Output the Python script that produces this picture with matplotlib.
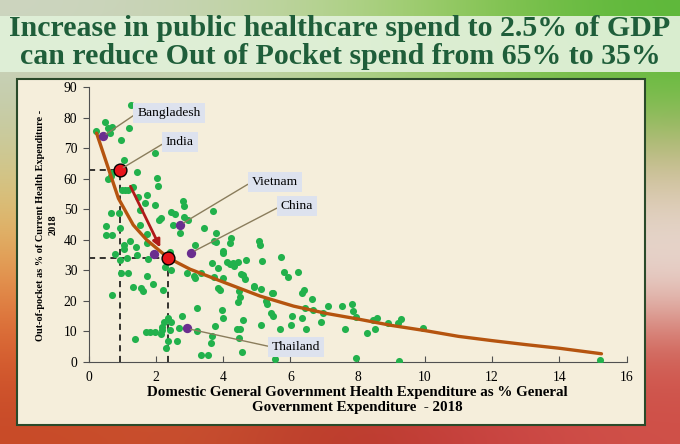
import numpy as np
import matplotlib.pyplot as plt
from matplotlib.patches import Rectangle
from matplotlib.colors import to_rgb

plt.rcParams['font.family'] = ['Liberation Serif', 'DejaVu Serif']

# other countries (green dots): x = govt health exp as % of GGE, y = OOP %
green_x = [0.22, 0.49, 0.59, 0.69, 0.64, 1.21, 1.25, 0.96, 1.05, 1.98, 1.43, 0.69, 0.66, 0.59,
           2.03, 2.07, 0.99, 1.08, 1.18, 1.31, 1.46, 1.73, 1.68, 1.98, 1.53, 2.45, 2.57, 2.82,
           2.85, 3.71, 2.15, 2.10, 0.67, 0.91, 0.51, 0.51, 0.71, 0.94, 1.53, 2.52, 2.85, 2.97,
           1.73, 2.72, 3.44, 3.79, 3.74, 3.78, 4.23, 4.20, 5.08, 5.10, 1.23, 1.06, 1.06, 1.40,
           1.73, 3.17, 0.79, 1.13, 1.43, 1.78, 2.42, 4.01, 3.99, 2.27, 2.45, 0.97, 1.18, 1.73,
           2.92, 3.13, 3.16, 3.33, 3.68, 3.86, 4.12, 4.20, 4.30, 4.43, 4.33, 4.67, 5.15, 5.71,
           4.53, 4.60, 4.65, 3.99, 3.73, 4.93, 5.81, 5.92, 6.22, 5.49, 4.48, 4.50, 4.45, 3.84,
           3.91, 5.27, 5.30, 6.41, 6.35, 6.65, 6.43, 6.68, 6.98, 7.13, 7.55, 7.84, 7.87, 7.94,
           7.64, 8.29, 8.45, 8.59, 8.52, 8.89, 9.21, 9.28, 9.95, 7.94, 9.24, 15.20, 1.93, 1.33,
           1.56, 1.63, 2.22, 0.71, 2.35, 2.24, 2.45, 2.18, 2.77, 2.18, 2.42, 1.70, 1.83, 1.98,
           2.15, 2.69, 3.23, 3.22, 1.38, 2.37, 2.64, 2.29, 3.34, 3.56, 3.66, 3.63, 3.76, 3.96,
           3.99, 4.58, 4.40, 4.50, 4.47, 4.55, 5.13, 5.69, 5.44, 5.49, 6.04, 6.02, 6.36, 6.47,
           6.91, 5.54, 5.12, 5.47, 4.92, 0.94]
green_y = [75.7, 78.4, 76.5, 76.9, 74.9, 76.5, 84.2, 72.7, 66.1, 68.3, 62.2, 61.8, 60.7, 60.0,
           60.2, 57.5, 56.3, 56.3, 56.3, 57.4, 54.1, 54.7, 51.9, 51.4, 49.7, 48.9, 48.4, 52.5,
           51.0, 49.4, 47.0, 46.5, 48.7, 48.7, 44.6, 41.5, 41.5, 43.7, 44.8, 44.8, 47.5, 46.5,
           41.9, 42.1, 43.7, 42.1, 39.6, 39.3, 40.5, 38.8, 39.6, 38.3, 39.6, 38.3, 36.9, 37.7,
           38.8, 38.3, 35.3, 33.9, 34.8, 33.6, 35.9, 36.4, 35.7, 31.1, 30.1, 29.2, 28.9, 28.2,
           29.2, 28.1, 27.3, 29.0, 32.3, 30.6, 32.8, 32.0, 32.3, 32.8, 31.5, 33.3, 33.0, 34.2,
           28.8, 28.4, 27.0, 27.5, 27.9, 24.6, 29.5, 27.7, 29.3, 22.4, 23.2, 21.3, 19.7, 24.1,
           23.5, 20.0, 18.9, 23.5, 22.4, 20.6, 17.5, 17.0, 16.1, 18.4, 18.4, 18.9, 16.6, 14.8,
           10.7, 9.3, 13.7, 14.2, 10.7, 12.8, 12.8, 13.9, 10.9, 1.3, 0.2, 0.5, 25.5, 24.4,
           24.1, 23.2, 23.5, 21.9, 14.2, 12.9, 13.1, 11.5, 15.0, 10.4, 10.4, 9.6, 9.6, 9.8,
           9.1, 10.9, 10.2, 17.5, 7.4, 6.9, 6.9, 4.6, 2.2, 2.1, 8.5, 6.0, 11.8, 16.9,
           14.2, 13.7, 10.7, 10.6, 7.7, 3.3, 12.0, 10.6, 15.9, 15.0, 15.0, 12.0, 14.2, 10.7,
           12.9, 0.9, 23.7, 22.4, 24.9, 33.3]

# labelled countries
country_names = ['Bangladesh', 'Vietnam', 'China', 'Thailand']
country_x = [0.42, 2.72, 3.05, 2.92]
country_y = [73.8, 44.8, 35.7, 10.9]
other_purple_x = [1.96]
other_purple_y = [35.2]

# India now and India at 2.5% of GDP
india_x = 0.93
india_y = 62.9
target_x = 2.37
target_y = 33.9

# trend line
trend_x = [0.24, 0.54, 0.89, 1.33, 1.73, 2.37, 3.02, 4.1, 5.1, 6.1, 7.08, 8.0, 9.0,
           10.0, 11.0, 12.0, 13.0, 14.0, 15.25]
trend_y = [74.9, 65.0, 53.5, 44.8, 39.9, 34.0, 30.3, 25.7, 21.5, 18.2, 15.8, 14.0, 11.9,
           10.2, 8.3, 6.9, 5.6, 4.4, 2.6]

fig = plt.figure(figsize=(6.8, 4.44), dpi=100)

# slide background
bg = fig.add_axes([0, 0, 1, 1])
grid = [['#cdd5c0', '#c5d3b0', '#b5d48e', '#8cc657', '#5db83a'],
        ['#c3cdb0', '#c8d4b0', '#b0d090', '#90c860', '#6ebc42'],
        ['#cdc990', '#d0d0b0', '#d0d0b0', '#c8c098', '#c9b888'],
        ['#e0b868', '#e0d0b0', '#e0d0c0', '#e0d0c8', '#e6d6cc'],
        ['#e48c48', '#d8a070', '#d8b0a0', '#e0c0b8', '#e8d4cc'],
        ['#d86030', '#d06a40', '#c85040', '#d07060', '#d06055'],
        ['#c84a28', '#c85030', '#b83828', '#c84040', '#d05048']]
img = np.array([[to_rgb(c) for c in row] for row in grid])
bg.imshow(img, extent=(0, 680, 444, 0), aspect='auto', interpolation='bicubic')
bg.set_xlim(0, 680)
bg.set_ylim(444, 0)
bg.axis('off')
bg.add_patch(Rectangle((0, 16), 680, 56, fc='#e0f0d8', ec='none', alpha=0.95))
bg.add_patch(Rectangle((17, 79), 628, 346, fc='#f5eedb', ec='#2a4a2a', lw=1.5))

fig.text(0.5, 1 - 28 / 444, 'Increase in public healthcare spend to 2.5% of GDP',
         ha='center', va='center', fontsize=21.5, fontweight='bold', color='#1f5e3a')
fig.text(0.5, 1 - 56 / 444, 'can reduce Out of Pocket spend from 65% to 35%',
         ha='center', va='center', fontsize=21.5, fontweight='bold', color='#1f5e3a')

ax = fig.add_axes([88.5 / 680, 1 - 361.7 / 444, 538.2 / 680, 274.7 / 444])
ax.patch.set_alpha(0)
ax.set_xlim(0, 16)
ax.set_ylim(0, 90)
ax.set_xticks(range(0, 17, 2))
ax.set_yticks(range(0, 91, 10))
for s in ['top', 'right']:
    ax.spines[s].set_visible(False)
for s in ['left', 'bottom']:
    ax.spines[s].set_color('#505050')
ax.tick_params(axis='x', direction='in', length=4, pad=7, labelsize=9.8, color='#505050')
ax.tick_params(axis='y', direction='out', length=4, pad=4, labelsize=9.8, color='#505050')

ax.scatter(green_x, green_y, s=26, color='#22b14c', zorder=3, linewidths=0)
ax.plot(trend_x, trend_y, color='#b5540f', lw=2.4, zorder=4, solid_capstyle='round')

# dashed guides
ax.plot([0, india_x], [india_y, india_y], 'k--', lw=1.1, dashes=(4, 3), zorder=2)
ax.plot([india_x, india_x], [0, india_y], 'k--', lw=1.1, dashes=(4, 3), zorder=2)
ax.plot([0, target_x], [target_y, target_y], 'k--', lw=1.1, dashes=(4, 3), zorder=2)
ax.plot([target_x, target_x], [0, target_y], 'k--', lw=1.1, dashes=(4, 3), zorder=2)

ax.annotate('', xy=(2.17, 36.6), xytext=(1.21, 58.3),
            arrowprops=dict(arrowstyle='-|>', color='#b01a1a', lw=2, mutation_scale=11),
            zorder=5)

ax.scatter(country_x + other_purple_x, country_y + other_purple_y, s=45,
           color='#6a2d8f', zorder=5, linewidths=0)
ax.scatter([india_x, target_x], [india_y, target_y], s=85, color='#e8141b',
           edgecolors='black', linewidths=1, zorder=6)

label_x = [2.39, 5.54, 6.20, 6.17]
label_y = [81.5, 58.9, 51.0, 4.8]
box = dict(boxstyle='square,pad=0.3', fc='#dde2ee', ec='none')
line = dict(arrowstyle='-', color='#8a7d5c', lw=1, relpos=(0, 0.5), shrinkA=0, shrinkB=3)
for name, px, py, lx, ly in zip(country_names, country_x, country_y, label_x, label_y):
    ax.annotate(name, xy=(px, py), xytext=(lx, ly), ha='center', va='center',
                fontsize=9.7, bbox=box, arrowprops=line, zorder=7)
ax.annotate('India', xy=(india_x, india_y), xytext=(2.72, 72.0), ha='center', va='center',
            fontsize=9.7, bbox=box, arrowprops=line, zorder=7)

fig.text(357 / 680, 1 - 400 / 444,
         'Domestic General Government Health Expenditure as % General\nGovernment Expenditure  - 2018',
         ha='center', va='center', fontsize=10.8, fontweight='bold', linespacing=1.15)
fig.text(47 / 680, 1 - 225 / 444,
         'Out-of-pocket as % of Current Health Expenditure -\n2018',
         ha='center', va='center', rotation=90, fontsize=7.4, fontweight='bold', linespacing=1.6)

fig.savefig('out.png', dpi=100)
